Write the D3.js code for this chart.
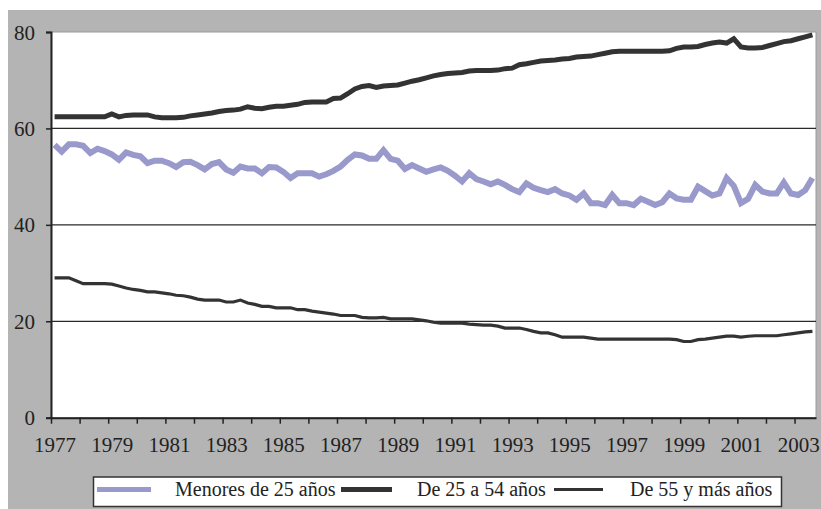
<!DOCTYPE html>
<html>
<head>
<meta charset="utf-8">
<script src="https://cdn.jsdelivr.net/npm/d3@7"></script>
<style>
  body { margin: 0; background: #fff; }
  svg text { font-family: "Liberation Serif", "DejaVu Serif", serif; fill: #222; }
</style>
</head>
<body>
<script>
// tick labels on the x axis (one label every two years)
const yearLabels = ["1977", "1979", "1981", "1983", "1985", "1987", "1989",
                    "1991", "1993", "1995", "1997", "1999", "2001", "2003"];
const firstYear = 1977;
const yTicks = [0, 20, 40, 60, 80];

// quarterly series, 1977 Q1 .. 2003 Q3
const menores25 = [
  56.6, 55.2, 56.7, 56.7,  56.4, 54.9, 55.8, 55.3,  54.6, 53.5, 55.0, 54.5,
  54.2, 52.8, 53.3, 53.3,  52.8, 52.0, 53.0, 53.1,  52.4, 51.5, 52.6, 53.0,
  51.5, 50.8, 52.1, 51.7,  51.7, 50.7, 52.0, 51.9,  51.0, 49.7, 50.7, 50.7,
  50.7, 50.0, 50.5, 51.2,  52.1, 53.5, 54.6, 54.4,  53.7, 53.7, 55.5, 53.7,
  53.3, 51.6, 52.4, 51.7,  51.0, 51.5, 51.9, 51.2,  50.2, 49.0, 50.7, 49.5,
  49.0, 48.4, 49.0, 48.3,  47.4, 46.8, 48.6, 47.7,  47.2, 46.8, 47.4, 46.5,
  46.1, 45.2, 46.5, 44.5,  44.5, 44.1, 46.2, 44.5,  44.5, 44.1, 45.4, 44.8,
  44.1, 44.7, 46.5, 45.5,  45.2, 45.2, 47.9, 47.0,  46.1, 46.5, 49.7, 48.1,
  44.5, 45.4, 48.3, 46.9,  46.5, 46.5, 48.8, 46.5,  46.2, 47.2, 49.7
];
const de25a54 = [
  62.4, 62.4, 62.4, 62.4,  62.4, 62.4, 62.4, 62.4,  63.0, 62.4, 62.7, 62.8,
  62.8, 62.8, 62.4, 62.2,  62.2, 62.2, 62.3, 62.6,  62.8, 63.0, 63.2, 63.5,
  63.7, 63.8, 64.0, 64.5,  64.2, 64.1, 64.4, 64.6,  64.6, 64.8, 65.0, 65.4,
  65.5, 65.5, 65.5, 66.2,  66.3, 67.2, 68.2, 68.7,  68.9, 68.5, 68.8, 68.9,
  69.0, 69.4, 69.8, 70.1,  70.5, 70.9, 71.2, 71.4,  71.5, 71.6, 71.9, 72.0,
  72.0, 72.0, 72.1, 72.4,  72.5, 73.2, 73.4, 73.7,  74.0, 74.1, 74.2, 74.4,
  74.5, 74.8, 74.9, 75.0,  75.3, 75.6, 75.9, 76.0,  76.0, 76.0, 76.0, 76.0,
  76.0, 76.0, 76.1, 76.6,  76.9, 76.9, 77.0, 77.4,  77.7, 77.9, 77.7, 78.6,
  76.9, 76.7, 76.7, 76.8,  77.2, 77.6, 78.0, 78.2,  78.6, 79.0, 79.4
];
const de55ymas = [
  29.0, 29.0, 29.0, 28.4,  27.8, 27.8, 27.8, 27.8,  27.7, 27.3, 26.9, 26.6,
  26.4, 26.1, 26.1, 25.9,  25.7, 25.4, 25.3, 25.0,  24.6, 24.4, 24.4, 24.4,
  24.0, 24.0, 24.4, 23.8,  23.5, 23.1, 23.1, 22.8,  22.8, 22.8, 22.4, 22.4,
  22.1, 21.9, 21.7, 21.5,  21.2, 21.2, 21.2, 20.8,  20.7, 20.7, 20.8, 20.5,
  20.5, 20.5, 20.5, 20.3,  20.1, 19.8, 19.6, 19.6,  19.6, 19.6, 19.4, 19.3,
  19.2, 19.2, 19.0, 18.6,  18.6, 18.6, 18.3, 17.9,  17.6, 17.6, 17.2, 16.7,
  16.7, 16.7, 16.7, 16.5,  16.3, 16.3, 16.3, 16.3,  16.3, 16.3, 16.3, 16.3,
  16.3, 16.3, 16.3, 16.2,  15.8, 15.8, 16.2, 16.3,  16.5, 16.7, 16.9, 16.9,
  16.7, 16.9, 17.0, 17.0,  17.0, 17.0, 17.2, 17.4,  17.6, 17.8, 17.9
];

const seriesNames = ["Menores de 25 años", "De 25 a 54 años", "De 55 y más años"];

const W = 821, H = 509;
const plot = { left: 51, right: 816, top: 32, bottom: 417.7 };
const serif = "Liberation Serif, DejaVu Serif, serif";

const svg = d3.select("body")
  .append("svg")
    .attr("width", W)
    .attr("height", H);

// chart area (gray) and plot area (white)
svg.append("rect")
  .attr("x", 8).attr("y", 10)
  .attr("width", W - 8).attr("height", H - 10)
  .attr("fill", "#b4b4b4");

svg.append("rect")
  .attr("x", plot.left).attr("y", plot.top)
  .attr("width", plot.right - plot.left).attr("height", plot.bottom - plot.top)
  .attr("fill", "#fff")
  .attr("stroke", "#9a9a9a")
  .attr("stroke-width", 1);

// scales: one category per quarter
const nCat = menores25.length;
const x = d3.scaleLinear()
  .domain([0, nCat])
  .range([plot.left, plot.right]);
const y = d3.scaleLinear()
  .domain([0, 80])
  .range([plot.bottom, plot.top]);

// gridlines
svg.append("g")
  .selectAll("line")
  .data(yTicks.filter(d => d > 0 && d < 80))
  .join("line")
    .attr("x1", plot.left).attr("x2", plot.right)
    .attr("y1", d => y(d)).attr("y2", d => y(d))
    .attr("stroke", "#2a2a2a")
    .attr("stroke-width", 1.2);

// Y axis
const yAxis = svg.append("g")
  .attr("transform", `translate(${plot.left},0)`)
  .call(d3.axisLeft(y).tickValues(yTicks).tickSize(5).tickPadding(11))
  .attr("font-family", serif)
  .attr("font-size", 21);
yAxis.select(".domain").attr("stroke", "#222").attr("stroke-width", 2);
yAxis.selectAll(".tick line").attr("stroke", "#222").attr("stroke-width", 1.5);
yAxis.selectAll("text").attr("dy", "0.34em");

// X axis: a tick at the start of every year
const yearStarts = d3.range(0, nCat, 4);
const xAxis = svg.append("g")
  .attr("transform", `translate(0,${plot.bottom})`)
  .call(d3.axisBottom(x).tickValues(yearStarts).tickSize(6).tickFormat("").tickSizeOuter(0));
xAxis.select(".domain").attr("stroke", "#222").attr("stroke-width", 2);
xAxis.selectAll(".tick line").attr("stroke", "#222").attr("stroke-width", 1.5);

// X labels centred on the first quarter of each labelled year
const labelPos = yearLabels.map(l => (+l - firstYear) * 4 + 0.5);
const xLab = svg.append("g")
  .attr("transform", `translate(0,${plot.bottom})`)
  .call(d3.axisBottom(x).tickValues(labelPos).tickSize(0).tickPadding(19)
    .tickFormat((d, i) => yearLabels[i]))
  .attr("font-family", serif)
  .attr("font-size", 21);
xLab.select(".domain").remove();

// lines
const line = d3.line()
  .x((d, i) => x(i + 0.5))
  .y(d => y(d));

const series = [
  { name: seriesNames[0], values: menores25, color: "#9999cc", width: 6 },
  { name: seriesNames[1], values: de25a54, color: "#333333", width: 5 },
  { name: seriesNames[2], values: de55ymas, color: "#333333", width: 3.2 }
];

svg.append("g")
  .selectAll("path")
  .data(series)
  .join("path")
    .attr("d", d => line(d.values))
    .attr("fill", "none")
    .attr("stroke", d => d.color)
    .attr("stroke-width", d => d.width)
    .attr("stroke-linejoin", "miter");

// legend
const legend = svg.append("g")
  .attr("font-family", serif)
  .attr("font-size", 20);
legend.append("rect")
  .attr("x", 93.5).attr("y", 477)
  .attr("width", 688).attr("height", 29.5)
  .attr("fill", "#fff")
  .attr("stroke", "#333")
  .attr("stroke-width", 1.5);

const legendPos = [
  { x1: 97, x2: 151, tx: 175 },
  { x1: 341, x2: 392, tx: 417 },
  { x1: 554, x2: 603, tx: 630 }
];

series.forEach((s, i) => {
  legend.append("line")
    .attr("x1", legendPos[i].x1).attr("x2", legendPos[i].x2)
    .attr("y1", 489.5).attr("y2", 489.5)
    .attr("stroke", s.color)
    .attr("stroke-width", i === 2 ? 3 : 5);
  legend.append("text")
    .attr("x", legendPos[i].tx)
    .attr("y", 496)
    .text(s.name);
});
</script>
</body>
</html>
